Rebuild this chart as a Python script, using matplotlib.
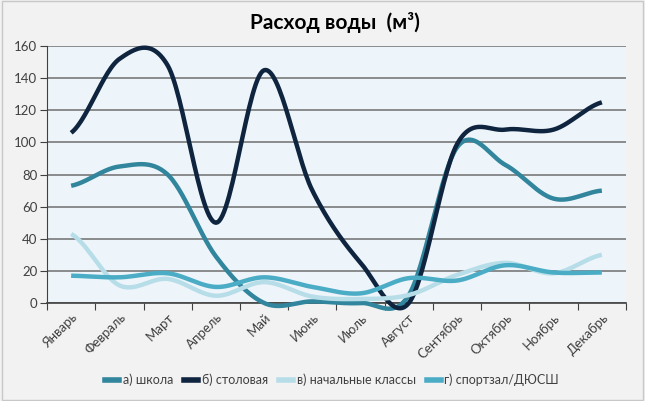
import numpy as np
import matplotlib.pyplot as plt
from matplotlib.lines import Line2D

months = ['Январь', 'Февраль', 'Март', 'Апрель', 'Май', 'Июнь', 'Июль',
          'Август', 'Сентябрь', 'Октябрь', 'Ноябрь', 'Декабрь']

shkola = [73, 85, 80, 29, 0, 1, 0, 5, 97, 86, 65, 70]
stolovaya = [106, 152, 148, 50, 145, 70, 25, 0, 99, 108, 108, 125]
nachalnye = [43, 11, 15, 4.5, 13, 4, 2.5, 5, 17.5, 25, 18.5, 30]
sportzal = [17, 16, 18.5, 10, 16, 10, 6, 15.5, 14, 23.5, 19, 19]

names = ['а) школа', 'б) столовая', 'в) начальные классы', 'г) спортзал/ДЮСШ']
colors = ['#31859c', '#0f243e', '#b7dee8', '#4bacc6']


def smooth(y, n=30):
    # catmull-rom, like excel's smoothed line
    y = np.asarray(y, dtype=float)
    p = np.concatenate([[y[0]], y, [y[-1]]])
    xs, ys = [], []
    t = np.linspace(0, 1, n)
    for i in range(len(y) - 1):
        p0, p1, p2, p3 = p[i], p[i + 1], p[i + 2], p[i + 3]
        m1 = (p2 - p0) / 2
        m2 = (p3 - p1) / 2
        h00 = 2 * t**3 - 3 * t**2 + 1
        h10 = t**3 - 2 * t**2 + t
        h01 = -2 * t**3 + 3 * t**2
        h11 = t**3 - t**2
        xs.append(i + t)
        ys.append(h00 * p1 + h10 * m1 + h01 * p2 + h11 * m2)
    return np.concatenate(xs), np.concatenate(ys)


plt.rcParams['font.family'] = ['Lato', 'DejaVu Sans']

fig = plt.figure(figsize=(6.45, 4.01), dpi=100, facecolor='#f2f2f2')
fig.patches.append(plt.Rectangle((0.003, 0.003), 0.994, 0.994, transform=fig.transFigure,
                                 fill=False, edgecolor='#c8c8c8', lw=1))
ax = fig.add_axes([0.0729, 0.2444, 0.8976, 0.6406])
ax.set_facecolor('#eef5fa')

for vals, c in zip([shkola, stolovaya, nachalnye, sportzal], colors):
    xx, yy = smooth(vals)
    ax.plot(xx, yy, color=c, lw=3.2, solid_capstyle='butt', zorder=3, clip_on=False)

ax.set_xlim(-0.5, 11.5)
ax.set_ylim(0, 160)
ax.set_yticks(range(0, 161, 20))
ax.yaxis.grid(True, color='#6e6e6e', lw=1.1)
ax.set_axisbelow(True)
ax.set_xticks(np.arange(-0.5, 12, 1))
ax.set_xticklabels([])
ax.set_xticks(range(12), minor=True)
ax.set_xticklabels(months, minor=True, rotation=45, ha='right', va='top',
                   rotation_mode='anchor', fontsize=9.5, color='#404040')
ax.tick_params(axis='x', which='minor', length=0, pad=6)
ax.tick_params(axis='x', which='major', length=5, color='#404040', direction='out')
ax.tick_params(axis='y', length=5, color='#404040', labelsize=9.5, labelcolor='#404040', pad=2)
for s in ['top', 'right']:
    ax.spines[s].set_visible(False)
ax.spines['left'].set_color('#404040')
ax.spines['bottom'].set_color('#404040')
ax.spines['bottom'].set_linewidth(1.2)

fig.text(0.52, 0.945, 'Расход воды  (м³)', ha='center', va='center',
         fontsize=15, fontweight='bold', color='#000000')

handles = [Line2D([0], [0], color=c, lw=4) for c in colors]
fig.legend(handles, names, loc='center', bbox_to_anchor=(0.515, 0.052), ncol=4,
           frameon=False, fontsize=9, handlelength=1.1, handletextpad=0.3,
           columnspacing=0.9, labelcolor='#404040')

fig.savefig('out.png', dpi=100, facecolor=fig.get_facecolor())
